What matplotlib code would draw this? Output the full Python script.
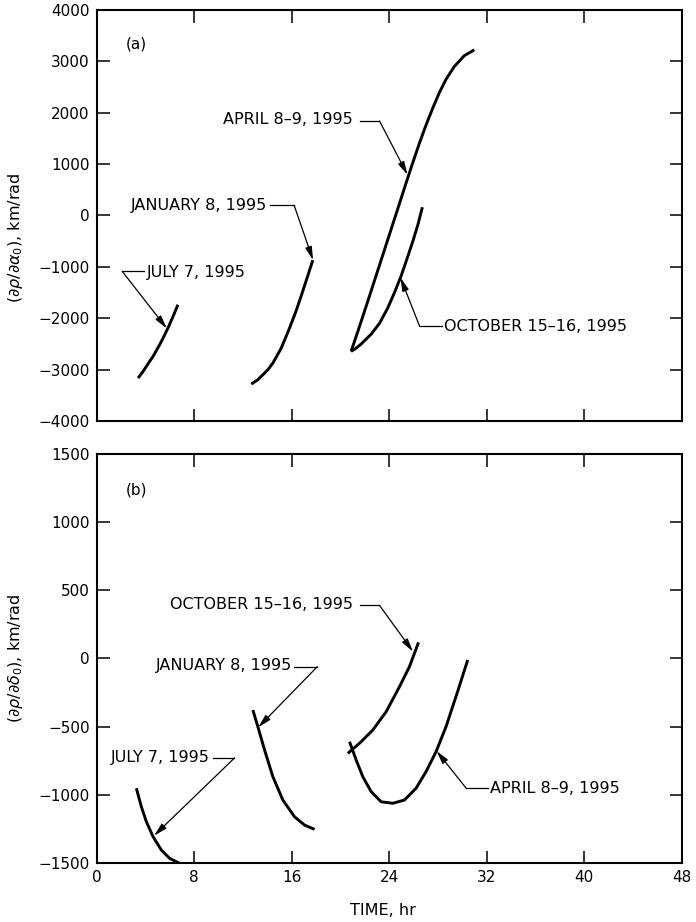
"""
Partial derivatives of range vs. time, two panels (a) right ascension, (b) declination.
"""
import matplotlib
matplotlib.use("Agg")
import matplotlib.pyplot as plt

plt.rcParams["font.family"] = ["DejaVu Sans"]
plt.rcParams["mathtext.fontset"] = "dejavusans"

# ---- panel (a): d rho / d alpha0, km/rad ----
july_a_t = [3.39, 3.80, 4.34, 4.62, 5.16, 5.44, 5.84, 6.26, 6.66]
july_a_v = [-3165, -3035, -2840, -2743, -2516, -2387, -2193, -1965, -1737]

jan_a_t = [12.68, 13.20, 13.63, 14.05, 14.45, 15.14, 15.82, 16.37, 16.91, 17.32, 17.73]
jan_a_v = [-3282, -3200, -3100, -3000, -2873, -2581, -2192, -1850, -1470, -1170, -870]

apr_a_t = [20.87, 21.42, 22.24, 23.06, 23.88, 24.70, 25.25, 25.80, 26.48, 27.02,
           27.57, 28.11, 28.66, 29.34, 30.16, 30.98]
apr_a_v = [-2646, -2260, -1670, -1070, -470, 130, 535, 935, 1410, 1760,
           2090, 2390, 2650, 2900, 3110, 3224]

oct_a_t = [20.87, 21.30, 21.70, 22.52, 23.20, 23.88, 24.43, 24.97, 25.52, 25.93, 26.35, 26.72]
oct_a_v = [-2646, -2580, -2500, -2310, -2100, -1800, -1500, -1180, -800, -506, -180, 160]

# ---- panel (b): d rho / d delta0, km/rad ----
july_b_t = [3.25, 3.66, 4.07, 4.62, 5.30, 5.98, 6.80, 7.10]
july_b_v = [-952, -1087, -1197, -1307, -1405, -1466, -1503, -1510]

jan_b_t = [12.81, 13.22, 13.77, 14.45, 15.27, 16.23, 17.05, 17.87]
jan_b_v = [-378, -500, -671, -867, -1038, -1161, -1222, -1253]

oct_b_t = [20.60, 21.56, 22.65, 23.75, 24.84, 25.66, 26.40]
oct_b_v = [-696, -622, -525, -390, -207, -60, 118]

apr_b_t = [20.74, 21.29, 21.83, 22.52, 23.33, 24.29, 25.25, 26.20, 27.02, 27.84,
           28.66, 29.62, 30.44]
apr_b_v = [-610, -745, -867, -977, -1051, -1062, -1038, -952, -830, -684,
           -500, -240, -11]

x_ticks = [0, 8, 16, 24, 32, 40, 48]
ya_ticks = [4000, 3000, 2000, 1000, 0, -1000, -2000, -3000, -4000]
yb_ticks = [1500, 1000, 500, 0, -500, -1000, -1500]

# label text, text anchor, ha, leader start x, corner, arrow tip
labels_a = [
    ("JULY 7, 1995", (4.1, -1110), "left", 3.9, (2.1, -1090), (5.75, -2200)),
    ("JANUARY 8, 1995", (14.0, 200), "right", 14.2, (16.2, 195), (17.75, -870)),
    ("APRIL 8\u20139, 1995", (21.0, 1860), "right", 21.6, (23.2, 1840), (25.5, 790)),
    ("OCTOBER 15\u201316, 1995", (28.5, -2170), "left", 28.3, (26.5, -2160), (24.92, -1210)),
]
labels_b = [
    ("OCTOBER 15\u201316, 1995", (21.0, 395), "right", 21.6, (23.2, 390), (25.95, 50)),
    ("JANUARY 8, 1995", (16.0, -55), "right", 16.2, (18.1, -60), (13.25, -505)),
    ("JULY 7, 1995", (9.3, -725), "right", 9.5, (11.3, -730), (4.70, -1300)),
    ("APRIL 8\u20139, 1995", (32.3, -950), "left", 32.1, (30.3, -950), (27.88, -678)),
]

fig = plt.figure(figsize=(6.96, 9.22), dpi=100)
fig.patch.set_facecolor("white")
ax_a = fig.add_axes([0.139, 0.5434, 0.8405, 0.4458])
ax_b = fig.add_axes([0.139, 0.064, 0.8405, 0.4436])

CURVE = dict(color="black", lw=2.1, solid_capstyle="butt", solid_joinstyle="round")


def style(ax, yticks):
    ax.set_xlim(0, 48)
    ax.set_ylim(min(yticks), max(yticks))
    ax.set_xticks(x_ticks)
    ax.set_yticks(yticks)
    ax.tick_params(direction="in", length=9, width=1.1, top=True, right=True,
                   labelsize=11, pad=5, colors="black")
    for sp in ax.spines.values():
        sp.set_linewidth(1.5)


def leaders(ax, specs):
    for text, txy, ha, x0, corner, tip in specs:
        ax.text(txy[0], txy[1], text, ha=ha, va="center", fontsize=11.5)
        ax.plot([x0, corner[0]], [corner[1], corner[1]], color="black", lw=0.9)
        ax.annotate("", xy=tip, xytext=corner,
                    arrowprops=dict(arrowstyle="-|>,head_length=0.8,head_width=0.2",
                                    color="black", lw=0.9, shrinkA=0, shrinkB=0,
                                    mutation_scale=10))


# panel (a)
ax_a.plot(july_a_t, july_a_v, **CURVE)
ax_a.plot(jan_a_t, jan_a_v, **CURVE)
ax_a.plot(apr_a_t, apr_a_v, **CURVE)
ax_a.plot(oct_a_t, oct_a_v, **CURVE)
style(ax_a, ya_ticks)
ax_a.tick_params(labelbottom=False)
ax_a.text(2.4, 3330, "(a)", ha="left", va="center", fontsize=11)
leaders(ax_a, labels_a)
ax_a.set_ylabel(r"$(\partial\rho/\partial\alpha_0)$, km/rad", fontsize=11.5)
ax_a.yaxis.set_label_coords(-0.123, 0.445)

# panel (b)
ax_b.plot(july_b_t, july_b_v, **CURVE)
ax_b.plot(jan_b_t, jan_b_v, **CURVE)
ax_b.plot(oct_b_t, oct_b_v, **CURVE)
ax_b.plot(apr_b_t, apr_b_v, **CURVE)
style(ax_b, yb_ticks)
ax_b.text(2.4, 1235, "(b)", ha="left", va="center", fontsize=11)
leaders(ax_b, labels_b)
ax_b.set_ylabel(r"$(\partial\rho/\partial\delta_0)$, km/rad", fontsize=11.5)
ax_b.yaxis.set_label_coords(-0.123, 0.5)
ax_b.set_xlabel("TIME, hr", fontsize=11.5)
ax_b.xaxis.set_label_coords(0.489, -0.098)

fig.savefig("out.png", dpi=100, facecolor="white")
